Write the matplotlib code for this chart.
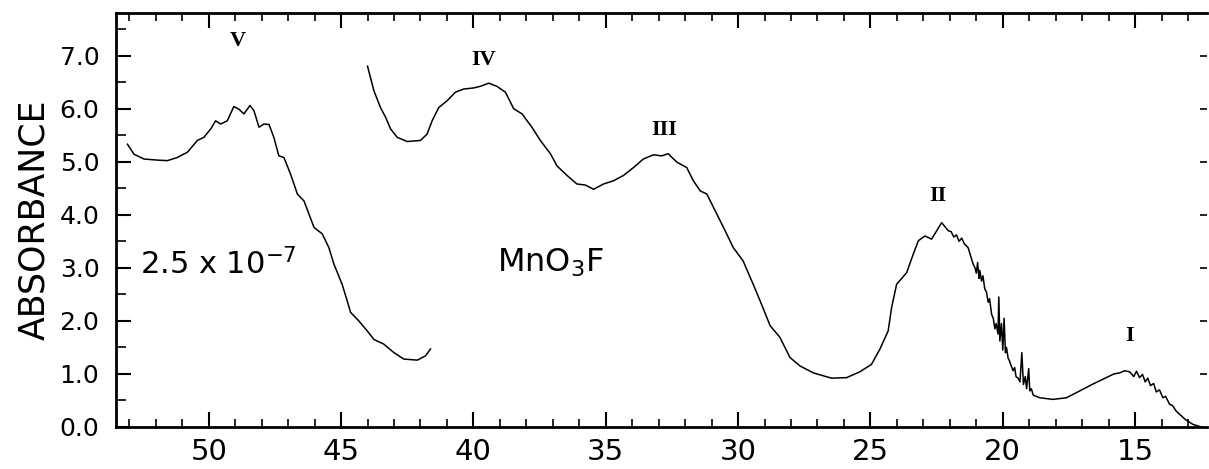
import matplotlib
matplotlib.use("Agg")
import matplotlib.pyplot as plt
from matplotlib.ticker import MultipleLocator

plt.rcParams['font.family'] = ['DejaVu Sans']
plt.rcParams['mathtext.default'] = 'regular'

# Curve V (scaled 2.5 x 10^-7), wavenumber (kK) vs absorbance
x_v = [53.07, 52.82, 52.44, 51.94, 51.56, 51.18, 50.80, 50.43, 50.18, 49.92,
       49.74, 49.55, 49.30, 49.05, 48.86, 48.67, 48.44, 48.29, 48.10, 47.91,
       47.72, 47.54, 47.35, 47.16, 46.91, 46.65, 46.40, 46.02, 45.71, 45.46,
       45.27, 44.96, 44.77, 44.64, 44.33, 44.01, 43.76, 43.38, 43.00, 42.63,
       42.12, 41.81, 41.62]
y_v = [5.33, 5.14, 5.05, 5.03, 5.02, 5.08, 5.18, 5.40, 5.46, 5.62,
       5.77, 5.71, 5.77, 6.04, 5.99, 5.90, 6.06, 5.96, 5.65, 5.71,
       5.70, 5.46, 5.11, 5.08, 4.77, 4.39, 4.26, 3.76, 3.64, 3.38,
       3.07, 2.69, 2.38, 2.16, 2.00, 1.81, 1.65, 1.56, 1.40, 1.28,
       1.26, 1.34, 1.47]

# Main MnO3F curve
x_main = [44.00, 43.76, 43.51, 43.32, 43.13, 42.88, 42.50, 42.00, 41.75, 41.56,
          41.31, 40.99, 40.68, 40.36, 39.99, 39.74, 39.42, 39.11, 38.79, 38.48,
          38.16, 37.79, 37.47, 37.09, 36.84, 36.46, 36.09, 35.77, 35.46, 35.08,
          34.71, 34.33, 33.95, 33.58, 33.20, 32.89, 32.64, 32.31, 31.94, 31.69,
          31.43, 31.18, 30.93, 30.55, 30.18, 29.81, 29.43, 29.17, 28.79, 28.42,
          28.04, 27.66, 27.16, 26.47, 25.90, 25.40, 24.96, 24.64, 24.33, 24.20,
          24.01, 23.63, 23.38, 23.19, 22.94, 22.69, 22.31, 22.06, 21.95, 21.85,
          21.75, 21.65, 21.55, 21.45, 21.31, 21.20, 21.12, 21.05, 21.00, 20.95,
          20.90, 20.87, 20.80, 20.75, 20.68, 20.62, 20.55, 20.50, 20.42, 20.36,
          20.30, 20.25, 20.18, 20.15, 20.11, 20.05, 20.00, 19.95, 19.90, 19.86,
          19.80, 19.75, 19.68, 19.61, 19.55, 19.50, 19.42, 19.35, 19.28, 19.22,
          19.15, 19.10, 19.02, 18.98, 18.92, 18.85, 18.60, 18.10, 17.60, 17.09,
          16.59, 16.09, 15.80, 15.58, 15.40, 15.21, 15.05, 14.95, 14.83, 14.72,
          14.62, 14.52, 14.42, 14.30, 14.20, 14.08, 13.95, 13.85, 13.70, 13.58,
          13.45, 13.32, 13.10, 12.82, 12.50]
y_main = [6.80, 6.34, 6.02, 5.84, 5.62, 5.46, 5.38, 5.40, 5.52, 5.77,
          6.02, 6.15, 6.31, 6.37, 6.39, 6.42, 6.48, 6.42, 6.31, 6.00,
          5.90, 5.65, 5.40, 5.15, 4.92, 4.74, 4.58, 4.56, 4.48, 4.58,
          4.64, 4.74, 4.89, 5.05, 5.13, 5.11, 5.15, 4.99, 4.89, 4.64,
          4.45, 4.39, 4.14, 3.76, 3.38, 3.13, 2.69, 2.38, 1.91, 1.69,
          1.31, 1.15, 1.02, 0.92, 0.93, 1.04, 1.18, 1.47, 1.81, 2.25,
          2.69, 2.91, 3.26, 3.51, 3.60, 3.54, 3.85, 3.70, 3.68, 3.58,
          3.62, 3.50, 3.56, 3.45, 3.38, 3.20, 3.07, 3.00, 2.90, 3.10,
          2.80, 2.95, 2.75, 2.85, 2.60, 2.55, 2.35, 2.42, 2.12, 2.05,
          1.85, 1.95, 1.75, 2.45, 1.62, 1.95, 1.45, 2.05, 1.40, 1.50,
          1.30, 1.25, 1.15, 1.06, 1.12, 0.95, 0.92, 0.85, 1.40, 0.80,
          0.95, 0.72, 1.10, 0.68, 0.72, 0.60, 0.55, 0.52, 0.55, 0.68,
          0.81, 0.93, 1.00, 1.02, 1.06, 1.04, 0.95, 1.05, 0.93, 0.99,
          0.85, 0.92, 0.78, 0.82, 0.66, 0.70, 0.55, 0.58, 0.43, 0.40,
          0.30, 0.24, 0.14, 0.05, 0.00]

band_labels = ["V", "IV", "III", "II", "I"]
band_x = [48.9, 39.6, 32.8, 22.45, 15.2]
band_y = [7.08, 6.72, 5.40, 4.17, 1.53]

x_ticks = [50, 45, 40, 35, 30, 25, 20, 15]
y_ticks = [0.0, 1.0, 2.0, 3.0, 4.0, 5.0, 6.0, 7.0]
y_right_ticks = [1.0, 2.0, 3.0, 4.0, 5.0, 6.0, 7.0]

fig = plt.figure(figsize=(12.09, 4.69), dpi=100)
ax = fig.add_axes([0.096, 0.0896, 0.902, 0.8824])

ax.plot(x_v, y_v, color='black', lw=1.1)
ax.plot(x_main, y_main, color='black', lw=1.1)

ax.set_xlim(53.5, 12.3)
ax.set_ylim(0.0, 7.8)

ax.set_xticks(x_ticks)
ax.set_xticklabels([str(t) for t in x_ticks], fontsize=21)
ax.set_yticks(y_ticks)
ax.set_yticklabels([f"{t:.1f}" for t in y_ticks], fontsize=18)
ax.xaxis.set_minor_locator(MultipleLocator(1))
ax.yaxis.set_minor_locator(MultipleLocator(0.5))

ax.tick_params(axis='x', which='major', direction='in', length=11, width=1.5,
               top=True, bottom=True, pad=8)
ax.tick_params(axis='x', which='minor', direction='in', length=6, width=1.2,
               top=True, bottom=True)
ax.tick_params(axis='y', which='major', direction='in', length=11, width=1.5,
               left=True, right=False, pad=12)
ax.tick_params(axis='y', which='minor', direction='in', length=7, width=1.2,
               left=True, right=False)

# short right-edge dashes
axr = ax.twinx()
axr.set_ylim(ax.get_ylim())
axr.set_yticks(y_right_ticks)
axr.set_yticklabels([])
axr.tick_params(axis='y', direction='in', length=5, width=1.2)
for s in axr.spines.values():
    s.set_visible(False)

for side in ['left', 'top', 'bottom']:
    ax.spines[side].set_linewidth(2.0)
ax.spines['right'].set_visible(False)

ax.set_ylabel("ABSORBANCE", fontsize=25, labelpad=6)

for lab, bx, by in zip(band_labels, band_x, band_y):
    ax.text(bx, by, lab, ha='center', va='bottom', fontsize=16,
            family='Liberation Serif', fontweight='bold')

ax.text(52.6, 3.07, "2.5 x 10$^{-7}$", fontsize=22, ha='left', va='center')
ax.text(39.1, 3.09, "MnO$_3$F", fontsize=23, ha='left', va='center')

fig.savefig("out.png", dpi=100)
